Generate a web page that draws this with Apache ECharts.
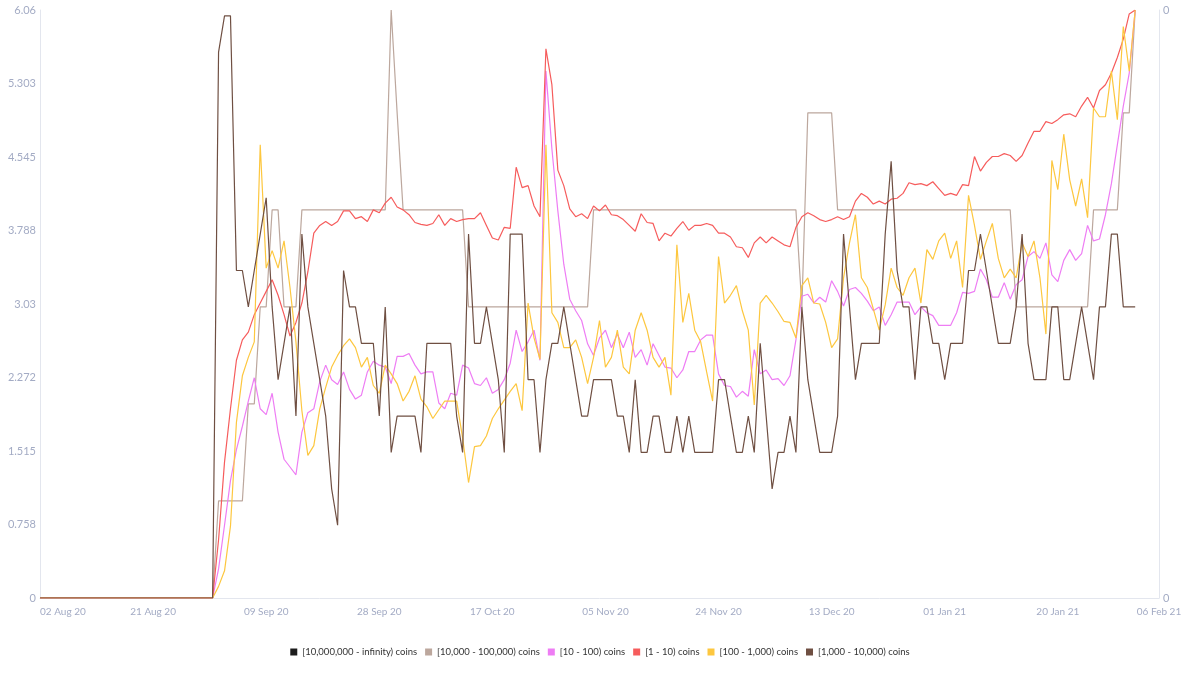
<!DOCTYPE html>
<html>
	<head>
		<meta charset="utf-8">
		<title>coins by holder band</title>
		<script src="https://cdn.jsdelivr.net/npm/echarts@6/dist/echarts.min.js"></script>
		<style>
			html, body { margin: 0; padding: 0; background: #fff; }
			#main { width: 1200px; height: 677px; }
		</style>
	</head>
	<body>
		<div id="main"></div>
		<script>
			// x axis: one category per day, 02 Aug 20 .. 06 Feb 21
			var startDay = new Date(Date.UTC(2020, 7, 2));
			var dayCount = 189;
			var monthNames = ['Jan', 'Feb', 'Mar', 'Apr', 'May', 'Jun', 'Jul', 'Aug', 'Sep', 'Oct', 'Nov', 'Dec'];

			// left axis tick labels
			var yTickLabels = ['0', '0.758', '1.515', '2.272', '3.03', '3.788', '4.545', '5.303', '6.06'];
			var yStep = 0.7575;

			var seriesNames = [
				'[10,000,000 - infinity) coins',
				'[10,000 - 100,000) coins',
				'[10 - 100) coins',
				'[1 - 10) coins',
				'[100 - 1,000) coins',
				'[1,000 - 10,000) coins'
			];
			var seriesColors = ['#1c1c1c', '#bca79d', '#ee7df4', '#f65c5c', '#fdc73f', '#6f4f42'];

			// 02 Aug .. 31 Aug, every band sits at zero
			var flatStart = [0, 0, 0, 0, 0, 0, 0, 0, 0, 0,
				0, 0, 0, 0, 0, 0, 0, 0, 0, 0,
				0, 0, 0, 0, 0, 0, 0, 0, 0, 0];

			// 01 Sep 20 .. 02 Feb 21 (rows of ten days)
			var band10k = [
				1, 1, 1, 1, 1, 2, 2, 3, 3, 4,
				4, 3, 3, 3, 4, 4, 4, 4, 4, 4,
				4, 4, 4, 4, 4, 4, 4, 4, 4, 6.06,
				5, 4, 4, 4, 4, 4, 4, 4, 4, 4,
				4, 4, 3, 3, 3, 3, 3, 3, 3, 3,
				3, 3, 3, 3, 3, 3, 3, 3, 3, 3,
				3, 3, 3, 4, 4, 4, 4, 4, 4, 4,
				4, 4, 4, 4, 4, 4, 4, 4, 4, 4,
				4, 4, 4, 4, 4, 4, 4, 4, 4, 4,
				4, 4, 4, 4, 4, 4, 4, 4, 3, 5,
				5, 5, 5, 5, 4, 4, 4, 4, 4, 4,
				4, 4, 4, 4, 4, 4, 4, 4, 4, 4,
				4, 4, 4, 4, 4, 4, 4, 4, 4, 4,
				4, 4, 4, 4, 3, 3, 3, 3, 3, 3,
				3, 3, 3, 3, 3, 3, 3, 4, 4, 4,
				4, 4, 5, 5, 6.06
			];

			var band10 = [
				0.3, 0.75, 1.21, 1.53, 1.77, 2.03, 2.27, 1.95, 1.89, 2.11,
				1.71, 1.43, 1.35, 1.27, 1.71, 1.91, 1.95, 2.23, 2.4, 2.25,
				2.2, 2.33, 2.15, 2.05, 2.09, 2.33, 2.44, 2.4, 2.38, 2.21,
				2.49, 2.49, 2.52, 2.4, 2.31, 2.33, 2.33, 2.01, 1.95, 2.11,
				2.09, 2.4, 2.37, 2.21, 2.19, 2.27, 2.11, 2.15, 2.25, 2.42,
				2.76, 2.54, 2.64, 2.76, 2.45, 5.43, 4.63, 3.99, 3.44, 3.08,
				2.96, 2.86, 2.62, 2.5, 2.68, 2.76, 2.58, 2.72, 2.58, 2.74,
				2.48, 2.56, 2.4, 2.62, 2.5, 2.38, 2.37, 2.27, 2.35, 2.54,
				2.54, 2.66, 2.71, 2.71, 2.31, 2.19, 2.18, 2.07, 2.13, 2.08,
				2.56, 2.31, 2.35, 2.25, 2.26, 2.19, 2.29, 2.66, 3.11, 3.13,
				3.04, 3.1, 3.05, 3.27, 3.16, 3.01, 3.18, 3.2, 3.14, 3.06,
				2.96, 3.0, 2.81, 2.92, 3.05, 3.05, 3.05, 2.92, 3.0, 2.94,
				2.91, 2.81, 2.81, 2.81, 2.94, 3.15, 3.14, 3.16, 3.39, 3.28,
				3.1, 3.1, 3.25, 3.08, 3.23, 3.28, 3.52, 3.57, 3.5, 3.66,
				3.33, 3.26, 3.48, 3.59, 3.48, 3.55, 3.84, 3.68, 3.7, 3.95,
				4.27, 4.67, 5.07, 5.41, 6.06
			];

			var band1 = [
				0.6, 1.4, 1.95, 2.45, 2.66, 2.74, 2.92, 3.04, 3.16, 3.28,
				3.12, 2.92, 2.7, 2.84, 3.04, 3.36, 3.76, 3.84, 3.88, 3.84,
				3.88, 3.99, 3.99, 3.91, 3.93, 3.88, 4.0, 3.97, 4.07, 4.13,
				4.03, 4.0, 3.95, 3.87, 3.85, 3.84, 3.86, 3.95, 3.84, 3.91,
				3.88, 3.9, 3.91, 3.91, 3.97, 3.84, 3.71, 3.69, 3.82, 3.81,
				4.44, 4.23, 4.25, 4.04, 3.93, 5.66, 5.29, 4.41, 4.25, 4.01,
				3.93, 3.96, 3.91, 4.04, 3.99, 4.05, 3.95, 3.94, 3.9, 3.84,
				3.78, 3.96, 3.87, 3.86, 3.68, 3.76, 3.73, 3.81, 3.88, 3.79,
				3.84, 3.84, 3.86, 3.84, 3.76, 3.76, 3.72, 3.62, 3.61, 3.51,
				3.66, 3.72, 3.66, 3.72, 3.68, 3.64, 3.62, 3.82, 3.93, 3.97,
				3.94, 3.9, 3.88, 3.9, 3.93, 3.9, 3.93, 4.09, 4.17, 4.13,
				4.06, 4.09, 4.06, 4.11, 4.12, 4.17, 4.28, 4.26, 4.27, 4.25,
				4.29, 4.22, 4.15, 4.17, 4.15, 4.26, 4.25, 4.55, 4.4, 4.49,
				4.55, 4.55, 4.58, 4.56, 4.5, 4.56, 4.69, 4.81, 4.81, 4.91,
				4.89, 4.93, 4.98, 4.99, 4.96, 5.07, 5.16, 5.05, 5.23, 5.29,
				5.41, 5.57, 5.76, 6.02, 6.06
			];

			var band100 = [
				0.12, 0.28, 0.74, 1.81, 2.29, 2.48, 2.64, 4.67, 3.4, 3.58,
				3.4, 3.68, 3.2, 2.64, 1.93, 1.47, 1.57, 1.95, 2.17, 2.38,
				2.5, 2.6, 2.67, 2.58, 2.38, 2.48, 2.19, 2.11, 2.4, 2.31,
				2.21, 2.03, 2.13, 2.29, 2.05, 1.97, 1.85, 1.94, 2.03, 2.03,
				2.03, 1.65, 1.19, 1.56, 1.57, 1.67, 1.85, 1.95, 2.04, 2.13,
				2.21, 1.93, 3.04, 2.68, 2.46, 4.67, 2.94, 2.84, 2.58, 2.58,
				2.66, 2.48, 2.21, 2.48, 2.86, 2.38, 2.48, 2.76, 2.38, 2.31,
				2.76, 2.94, 2.76, 2.48, 2.38, 2.48, 2.09, 3.64, 2.84, 3.14,
				2.76, 2.64, 2.33, 2.03, 3.52, 3.04, 3.12, 3.22, 2.96, 2.76,
				1.99, 3.04, 3.12, 3.04, 2.95, 2.85, 2.84, 2.68, 3.22, 3.3,
				3.04, 3.03, 2.84, 2.58, 2.67, 3.3, 3.66, 3.95, 3.3, 3.2,
				2.98, 2.76, 3.02, 3.4, 3.2, 3.12, 3.3, 3.4, 3.04, 3.59,
				3.49, 3.68, 3.76, 3.5, 3.68, 3.2, 4.15, 3.84, 3.49, 3.68,
				3.86, 3.5, 3.3, 3.39, 3.3, 3.66, 3.52, 3.68, 3.3, 2.72,
				4.51, 4.21, 4.78, 4.31, 4.04, 4.32, 3.92, 5.05, 4.96, 4.96,
				5.43, 4.93, 5.89, 5.43, 6.06
			];

			var band1k = [
				5.625, 6.0, 6.0, 3.375, 3.375, 3.0, 3.375, 3.75, 4.125, 3.0,
				2.25, 2.625, 3.0, 1.875, 3.75, 3.0, 2.625, 2.25, 1.875, 1.125,
				0.75, 3.375, 3.0, 3.0, 2.625, 2.625, 2.625, 1.875, 3.0, 1.5,
				1.875, 1.875, 1.875, 1.875, 1.5, 2.625, 2.625, 2.625, 2.625, 2.625,
				1.875, 1.5, 3.75, 2.625, 2.625, 3.0, 2.625, 2.25, 1.5, 3.75,
				3.75, 3.75, 2.25, 2.25, 1.5, 2.25, 2.625, 2.625, 3.0, 2.625,
				2.25, 1.875, 1.875, 2.25, 2.25, 2.25, 2.25, 1.875, 1.875, 1.5,
				2.25, 1.5, 1.5, 1.875, 1.875, 1.5, 1.5, 1.875, 1.5, 1.875,
				1.5, 1.5, 1.5, 1.5, 2.25, 2.25, 1.875, 1.5, 1.5, 1.875,
				1.5, 2.625, 1.875, 1.125, 1.5, 1.5, 1.875, 1.5, 3.0, 2.25,
				1.875, 1.5, 1.5, 1.5, 1.875, 3.75, 3.0, 2.25, 2.625, 2.625,
				2.625, 2.625, 3.75, 4.5, 3.375, 3.0, 3.0, 2.25, 3.0, 3.0,
				2.625, 2.625, 2.25, 2.625, 2.625, 2.625, 3.375, 3.375, 3.75, 3.375,
				3.0, 2.625, 2.625, 2.625, 3.0, 3.75, 2.625, 2.25, 2.25, 2.25,
				3.0, 3.0, 2.25, 2.25, 2.625, 3.0, 2.625, 2.25, 3.0, 3.0,
				3.75, 3.75, 3.0, 3.0, 3.0
			];

			var days = [];
			for (var i = 0; i < dayCount; i++) {
				var d = new Date(startDay.getTime() + i * 86400000);
				var dd = ('0' + d.getUTCDate()).slice(-2);
				var yy = String(d.getUTCFullYear()).slice(-2);
				days.push(dd + ' ' + monthNames[d.getUTCMonth()] + ' ' + yy);
			}

			var seriesData = [
				flatStart,
				flatStart.concat(band10k),
				flatStart.concat(band10),
				flatStart.concat(band1),
				flatStart.concat(band100),
				flatStart.concat(band1k)
			];

			var axisText = '#a3abc4';
			var axisLine = '#e3e6ee';
			var font = 'Lato, "Open Sans", sans-serif';

			var myChart = echarts.init(document.getElementById('main'), null, { renderer: 'canvas' });

			var option = {
				animation: false,
				color: seriesColors,
				textStyle: { fontFamily: font },
				grid: { left: 40, right: 41, top: 10, bottom: 79 },
				legend: {
					bottom: 15,
					left: 'center',
					icon: 'rect',
					itemWidth: 7,
					itemHeight: 7,
					itemGap: 8,
					itemStyle: { borderWidth: 0 },
					textStyle: { fontSize: 9.5, color: '#333', fontFamily: font },
					data: seriesNames
				},
				xAxis: {
					type: 'category',
					boundaryGap: false,
					data: days,
					axisLine: { lineStyle: { color: axisLine } },
					axisTick: { show: false },
					axisLabel: {
						color: axisText,
						fontSize: 10,
						margin: 9,
						alignMinLabel: 'left',
						interval: function (index) {
							return index % 19 === 0 || index === dayCount - 1;
						}
					},
					splitLine: { show: false }
				},
				yAxis: [{
					type: 'value',
					min: 0,
					max: 6.06,
					interval: yStep,
					axisLine: { show: true, lineStyle: { color: axisLine } },
					axisTick: { show: false },
					splitLine: { show: false },
					axisLabel: {
						color: axisText,
						fontSize: 11,
						margin: 4,
						formatter: function (v) {
							return yTickLabels[Math.round(v / yStep)];
						}
					}
				}, {
					type: 'value',
					min: 0,
					max: 1,
					interval: 1,
					position: 'right',
					axisLine: { show: true, lineStyle: { color: axisLine } },
					axisTick: { show: false },
					splitLine: { show: false },
					axisLabel: {
						color: axisText,
						fontSize: 11,
						margin: 4,
						formatter: function () { return '0'; }
					}
				}],
				series: seriesNames.map(function (name, k) {
					return {
						name: name,
						type: 'line',
						data: seriesData[k],
						showSymbol: false,
						symbol: 'none',
						lineStyle: { width: 1.2 },
						emphasis: { disabled: true }
					};
				})
			};

			option && myChart.setOption(option);
		</script>
	</body>
</html>
